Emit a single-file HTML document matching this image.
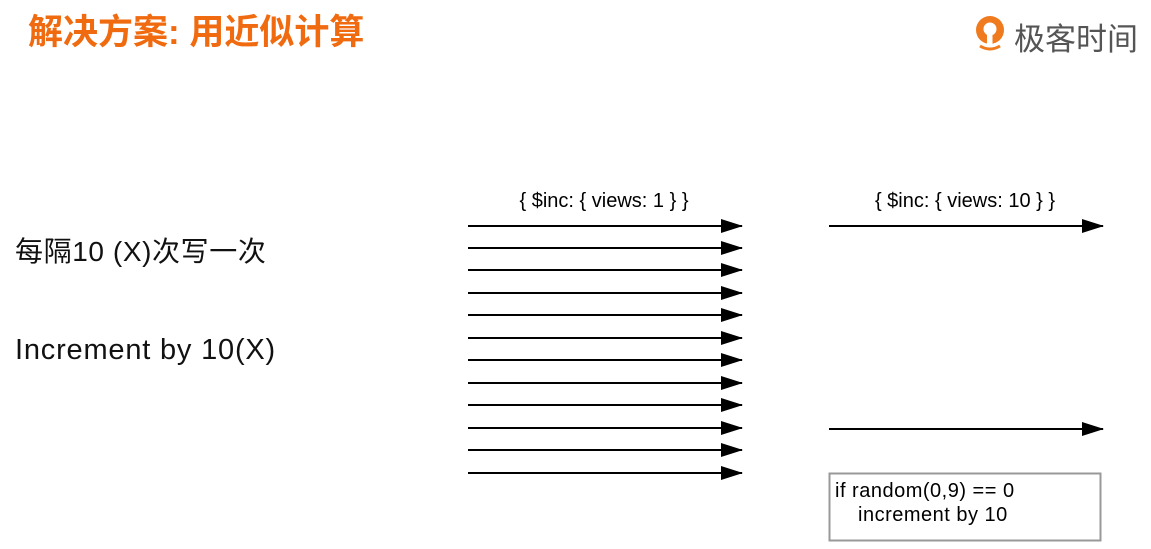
<!DOCTYPE html>
<html><head><meta charset="utf-8"><style>
body{margin:0;width:1151px;height:549px;background:#fff;overflow:hidden;position:relative;font-family:"Liberation Sans","Noto Sans CJK SC",sans-serif}
.t{position:absolute;white-space:nowrap}
</style></head><body>
<div class="t" style="left:28px;top:4px;font-size:35px;color:#f06a0f;font-weight:bold">解决方案: 用近似计算</div>
<div style="position:absolute;left:972px;top:12px;width:180px;height:44px">
<svg width="42" height="42"><circle cx="18" cy="18" r="14" fill="#f07a1e"/><circle cx="18" cy="17" r="6.5" fill="#fff"/><rect x="15" y="21" width="5.5" height="13" fill="#fff"/><path d="M8 34 Q18 40 28 34" stroke="#f07a1e" stroke-width="3" fill="none"/></svg>
<div class="t" style="left:42px;top:2px;font-size:31px;color:#555">极客时间</div>
</div>
<div class="t" style="left:15px;top:230px;font-size:28px;letter-spacing:0.6px;color:#111">每隔10 (X)次写一次</div>
<div class="t" style="left:15px;top:334px;font-size:29px;letter-spacing:0.8px;color:#111">Increment by 10(X)</div>
<svg id="c" width="1151" height="549" style="position:absolute;left:0;top:0">
<defs><marker id="ah" markerWidth="22" markerHeight="14" refX="21" refY="7" orient="auto" markerUnits="userSpaceOnUse"><path d="M0,0 L22,7 L0,14 Z" fill="#000"/></marker></defs>
<text x="604" y="207" text-anchor="middle" font-size="20" font-family="Liberation Sans">{ $inc: { views: 1 } }</text>
<text x="965" y="207" text-anchor="middle" font-size="20" font-family="Liberation Sans">{ $inc: { views: 10 } }</text>
<rect x="829.5" y="473.5" width="271" height="67" fill="#fff" stroke="#999" stroke-width="2"/>
<text x="835" y="497" font-size="20" letter-spacing="0.5" font-family="Liberation Sans">if random(0,9) == 0</text>
<text x="858" y="521" font-size="20" letter-spacing="0.5" font-family="Liberation Sans">increment by 10</text>
</svg>
<script>
const leftArrowYs=[226,248,270,293,315,338,360,383,405,428,450,473];
const rightArrowYs=[226,429];
const svg=document.getElementById('c');
function arrow(x1,x2,y,name){
 const l=document.createElementNS('http://www.w3.org/2000/svg','line');
 l.setAttribute('x1',x1);l.setAttribute('x2',x2);l.setAttribute('y1',y);l.setAttribute('y2',y);
 l.setAttribute('stroke','#000');l.setAttribute('stroke-width','2');l.setAttribute('marker-end','url(#ah)');
 
 
 svg.appendChild(l);
}
leftArrowYs.forEach(y=>arrow(468,742,y,'write-arrow'));
rightArrowYs.forEach(y=>arrow(829,1103,y,'batched-write-arrow'));
</script>
</body></html>
